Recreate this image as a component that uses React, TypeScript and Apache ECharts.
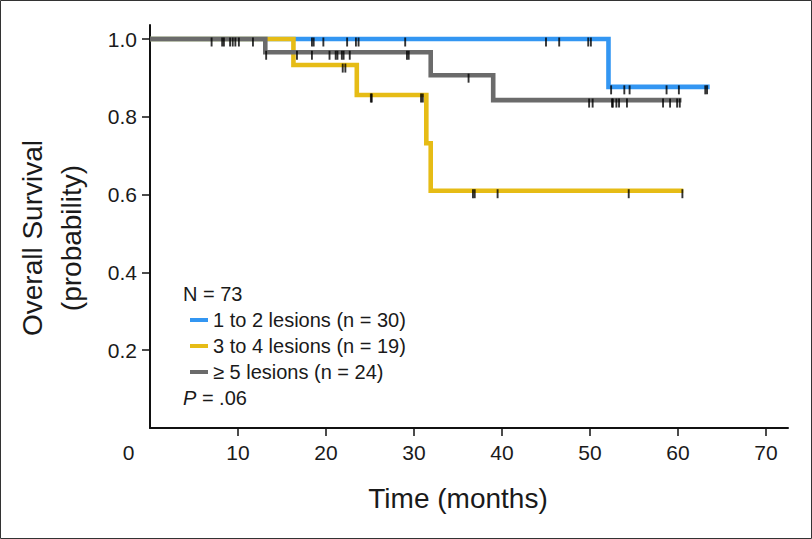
import React, { useEffect, useRef } from "react";
import * as echarts from "echarts";

// ---- data (months, survival probability) ----
const xTickValues = [0, 10, 20, 30, 40, 50, 60, 70];
const yTickValues = [0.2, 0.4, 0.6, 0.8, 1.0];

const groupNames = ["1 to 2 lesions (n = 30)", "3 to 4 lesions (n = 19)", "\u2265 5 lesions (n = 24)"];

const blueTimes = [0, 52.1, 63.6];
const blueSurv = [1, 0.877, 0.877];
const blueCensors = [18.4, 18.6, 19.7, 22.4, 23.4, 23.7, 29.0, 45.0, 46.5, 49.8, 50.1, 52.4, 53.9, 54.5, 58.7, 60.1, 63.1, 63.3];

const yellowTimes = [0, 16.3, 23.5, 31.4, 31.9, 60.6];
const yellowSurv = [1, 0.933, 0.856, 0.732, 0.61, 0.61];
const yellowCensors = [21.9, 22.2, 25.1, 25.2, 30.8, 31.0, 36.7, 36.9, 39.5, 54.4, 60.5];

const grayTimes = [0, 13.1, 31.9, 39.0, 60.4];
const graySurv = [1, 0.966, 0.907, 0.843, 0.843];
const grayCensors = [7.0, 8.2, 8.4, 9.1, 9.4, 9.7, 10.1, 11.7, 13.2, 16.7, 18.4, 20.4, 21.1, 21.3, 21.8, 22.0, 22.7, 29.2, 29.4, 36.2, 49.9, 50.3, 52.5, 52.6, 53.0, 53.3, 54.2, 58.3, 59.1, 59.9, 60.2];

const totalN = "N = 73";
const pValue = ".06";

const colors = ["#3396F2", "#E6BC16", "#6B6B6B"];
const FONT = '"Liberation Sans", Arial, Helvetica, sans-serif';

function survAt(times: number[], surv: number[], t: number) {
  let s = surv[0];
  for (let i = 0; i < times.length; i++) if (times[i] <= t) s = surv[i];
  return s;
}

export default function App() {
  const ref = useRef<HTMLDivElement>(null);
  useEffect(() => {
    if (!ref.current) return;
    const chart = echarts.init(ref.current, undefined, { renderer: "svg" });
    const groups = [
      { times: blueTimes, surv: blueSurv, cens: blueCensors, z: 2 },
      { times: yellowTimes, surv: yellowSurv, cens: yellowCensors, z: 3 },
      { times: grayTimes, surv: graySurv, cens: grayCensors, z: 4 },
    ];
    const lineSeries = groups.map((g, i) => ({
      name: groupNames[i],
      type: "line",
      step: "end",
      showSymbol: false,
      symbol: "none",
      z: g.z,
      lineStyle: { width: 4.6, color: colors[i], cap: "butt", join: "miter" },
      itemStyle: { color: colors[i] },
      data: g.times.map((t, k) => [t, g.surv[k]]),
      silent: true,
    }));
    const censorSeries = groups.map((g, i) => ({
      name: "censor-" + i,
      type: "scatter",
      symbol: "rect",
      symbolSize: [1.9, 9],
      symbolOffset: [0, 3],
      z: 10,
      itemStyle: { color: "#000" },
      data: g.cens.map((t) => [t, survAt(g.times, g.surv, t)]),
      silent: true,
    }));

    chart.setOption({
      animation: false,
      backgroundColor: "#fff",
      textStyle: { fontFamily: FONT },
      grid: { left: 150, right: 24, top: 25, bottom: 111, containLabel: false },
      xAxis: {
        type: "value",
        min: 0,
        max: 72.5,
        axisLine: { show: true, onZero: false, lineStyle: { color: "#111", width: 2 } },
        axisTick: { show: true, length: 8, customValues: xTickValues.filter((v) => v > 0), lineStyle: { color: "#111", width: 1.5 } },
        axisLabel: {
          customValues: xTickValues,
          margin: 14,
          fontSize: 21,
          lineHeight: 21,
          color: "#1a1a1a",
          fontFamily: FONT,
          formatter: (v: number) => (v === 0 ? "{z|0}" : String(v)),
          rich: { z: { fontSize: 21, lineHeight: 21, color: "#1a1a1a", fontFamily: FONT, padding: [0, 43, 0, 0] } },
        },
        splitLine: { show: false },
      },
      yAxis: {
        type: "value",
        min: 0,
        max: 1.036,
        axisLine: { show: true, onZero: false, lineStyle: { color: "#111", width: 2 } },
        axisTick: { show: true, length: 8, customValues: yTickValues, lineStyle: { color: "#111", width: 1.5 } },
        axisLabel: {
          customValues: yTickValues,
          margin: 13,
          fontSize: 21,
          color: "#1a1a1a",
          fontFamily: FONT,
          formatter: (v: number) => v.toFixed(1),
        },
        splitLine: { show: false },
      },
      legend: {
        data: groupNames,
        orient: "vertical",
        left: 185,
        top: 305,
        itemWidth: 18,
        itemHeight: 4,
        itemGap: 6,
        icon: "rect",
        selectedMode: false,
        textStyle: { fontSize: 20, lineHeight: 20, color: "#1a1a1a", fontFamily: FONT },
      },
      graphic: [
        {
          type: "rect",
          shape: { x: 0.5, y: 0.5, width: 811, height: 538 },
          style: { fill: "none", stroke: "#333", lineWidth: 1 },
          silent: true,
        },
        {
          type: "text",
          x: 52,
          y: 238,
          rotation: Math.PI / 2,
          style: {
            text: "Overall Survival\n(probability)",
            fontSize: 28,
            lineHeight: 39,
            fontFamily: FONT,
            fill: "#1a1a1a",
            align: "center",
            verticalAlign: "middle",
          },
        },
        {
          type: "text",
          x: 458,
          y: 498,
          style: {
            text: "Time (months)",
            fontSize: 28,
            fontFamily: FONT,
            fill: "#1a1a1a",
            align: "center",
            verticalAlign: "middle",
          },
        },
        {
          type: "text",
          x: 183,
          y: 294,
          style: { text: totalN, fontSize: 20, fontFamily: FONT, fill: "#1a1a1a", align: "left", verticalAlign: "middle" },
        },
        {
          type: "text",
          x: 183,
          y: 398,
          style: {
            text: "{i|P} = " + pValue,
            fontSize: 20,
            fontFamily: FONT,
            fill: "#1a1a1a",
            align: "left",
            verticalAlign: "middle",
            rich: { i: { fontStyle: "italic", fontSize: 20, fontFamily: FONT, fill: "#1a1a1a" } },
          },
        },
      ],
      series: [...lineSeries, ...censorSeries],
    });
    return () => chart.dispose();
  }, []);
  return <div ref={ref} style={{ position: "fixed", left: 0, top: 0, width: 812, height: 539 }} />;
}
